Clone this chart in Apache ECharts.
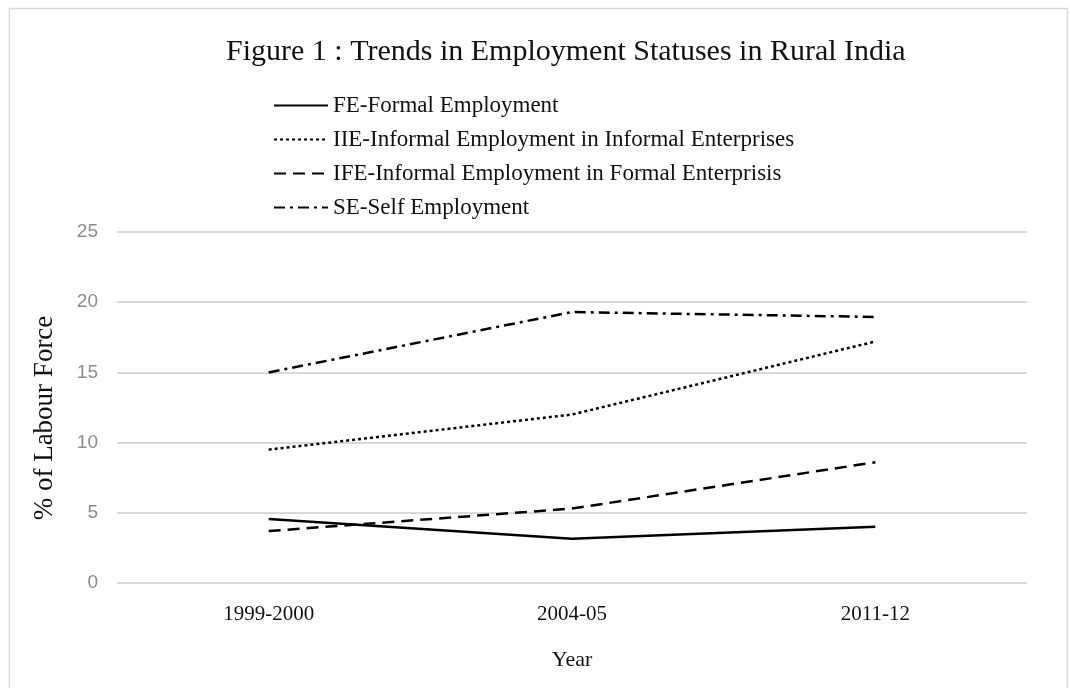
<!DOCTYPE html>
<html><head><meta charset="utf-8">
<script src="https://cdn.jsdelivr.net/npm/echarts@6/dist/echarts.min.js"></script>
<style>html,body{margin:0;padding:0;background:#fff}#c{width:1070px;height:688px}</style>
</head><body><div id="c"></div>
<script>
const categories = ['1999-2000', '2004-05', '2011-12'];
const seriesNames = ['FE-Formal Employment', 'IIE-Informal Employment in Informal Enterprises', 'IFE-Informal Employment in Formal Enterprisis', 'SE-Self Employment'];
const feValues = [4.55, 3.15, 4.0];
const iieValues = [9.5, 12.0, 17.2];
const ifeValues = [3.7, 5.3, 8.6];
const seValues = [15.0, 19.3, 18.95];
const yTicks = [0, 5, 10, 15, 20, 25];
const yAxisTitle = '% of Labour Force';

const serif = '"Liberation Serif", "DejaVu Serif", serif';
const dashes = ['solid', [3, 3], [12, 7], [11, 5, 3, 5]];
const allValues = [feValues, iieValues, ifeValues, seValues];

const chart = echarts.init(document.getElementById('c'));
chart.setOption({
  backgroundColor: '#fff',
  animation: false,
  graphic: [{
    type: 'rect', left: 7, top: 6,
    shape: { width: 1058, height: 700 },
    style: { fill: 'none', stroke: '#d9d9d9', lineWidth: 1.5 }
  }, {
    type: 'text', x: 45, y: 418, rotation: Math.PI / 2,
    style: { text: yAxisTitle, align: 'center', verticalAlign: 'middle',
      font: '27px "Liberation Serif", serif', fill: '#111' }
  }],
  title: {
    text: 'Figure 1 : Trends in Employment Statuses in Rural India',
    left: 221, top: 32,
    textStyle: { fontFamily: serif, fontWeight: 'normal', fontSize: 30, color: '#111' }
  },
  legend: {
    orient: 'vertical', left: 268, top: 89,
    itemWidth: 54, itemHeight: 14, itemGap: 11,
    itemStyle: { opacity: 0 },
    textStyle: { fontFamily: serif, fontSize: 23, color: '#111' },
    data: seriesNames
  },
  grid: { left: 117, right: 43, top: 232, bottom: 105, containLabel: false },
  xAxis: {
    type: 'category', data: categories, boundaryGap: true,
    axisLine: { show: false }, axisTick: { show: false },
    axisLabel: { fontFamily: serif, fontSize: 21, color: '#111', margin: 21 },
    name: 'Year', nameLocation: 'middle', nameGap: 66,
    nameTextStyle: { fontFamily: serif, fontSize: 22, color: '#111' }
  },
  yAxis: {
    type: 'value', min: yTicks[0], max: yTicks[yTicks.length - 1], interval: 5,
    axisLine: { show: false }, axisTick: { show: false },
    splitLine: { lineStyle: { color: '#d9d9d9', width: 2 } },
    axisLabel: { fontFamily: '"Liberation Sans", sans-serif', fontSize: 19, color: '#8c8c8c', margin: 19 }
  },
  series: seriesNames.map((n, i) => ({
    name: n, type: 'line', data: allValues[i],
    symbol: 'none', showSymbol: false,
    lineStyle: { color: '#000', width: 2.5, type: dashes[i] },
    itemStyle: { color: '#000' }
  }))
});
</script></body></html>
